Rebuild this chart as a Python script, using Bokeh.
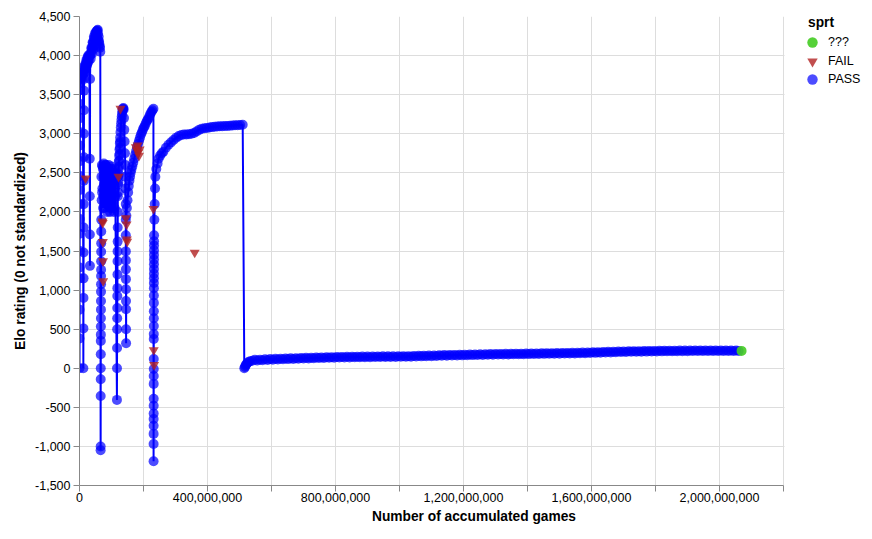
from bokeh.plotting import figure
from bokeh.models import (Range1d, FixedTicker, NumeralTickFormatter, Legend,
                          LegendItem, ColumnDataSource, BoxAnnotation, Title)
from bokeh.embed import file_html
from bokeh.resources import INLINE

# ---------------- data (games in millions, Elo) ----------------
col0_games = [0.0, 0.1, 0.2, 0.3, 0.4, 0.5, 0.6, 0.7, 0.8, 0.9, 1.0, 1.1, 1.2, 1.3, 1.4, 1.5, 1.6, 1.7]
col0_elo = [0, 380, 750, 1150, 1290, 1500, 1720, 1910, 2100, 2280, 2460, 2650, 2850, 3020, 3200, 3380, 3560, 3650]

run1_games = [3, 5, 7, 9, 11, 12.0, 12.2, 12.4, 12.6, 12.8, 13.0, 13.2, 13.4, 13.6, 13.8, 14.0, 14.2,
              14.4, 14.6, 14.8, 15, 16, 17, 18, 19, 20, 21, 22, 23, 24, 25, 26, 27, 28, 29, 30, 31,
              32.0, 32.2, 32.4, 32.6, 33, 34, 35, 36, 37, 38, 39, 40, 41, 42, 43, 44, 45, 46, 47, 48,
              49, 50, 51, 52, 53, 54, 55, 56, 57, 58, 59, 60, 61, 62, 63, 64, 65]
run1_elo = [3680, 3720, 3700, 3780, 3760, 0, 510, 900, 1150, 1480, 1800, 2100, 2400, 2700, 3000, 3300,
            3550, 3700, 3790, 3830, 3860, 3780, 3820, 3880, 3900, 3840, 3870, 3950, 3940, 3880, 3910,
            3990, 3980, 3920, 3950, 4010, 3990, 2680, 2200, 1710, 1310, 3700, 4010, 3960, 4040, 4100,
            4090, 4020, 4100, 4170, 4160, 4080, 4170, 4240, 4220, 4150, 4230, 4290, 4280, 4200, 4270,
            4310, 4310, 4240, 4320, 4330, 4280, 4200, 4240, 4180, 4150, 4120, 4100, 4050]

colA_games = [66.0, 66.1, 66.2, 66.3, 66.4, 66.5, 66.6, 66.7, 66.8, 66.9, 67.0, 67.1, 67.2, 67.3,
              67.4, 67.5, 67.6, 67.7, 67.8, 67.9, 68.0]
colA_elo = [-1050, -1000, -355, -140, 0, 180, 350, 430, 535, 640, 750, 860, 980, 1075, 1180, 1260,
            1370, 1490, 1600, 1750, 1900]

run2_games = [68.5, 69.25, 70, 70.75, 71.5, 72.25, 73, 73.75, 74.5, 75.25, 76, 76.75, 77.5, 78.25,
              79, 79.75, 80.5, 81.25, 82, 82.75, 83.5, 84.25, 85, 85.75, 86.5, 87.25, 88, 88.75,
              89.5, 90.25, 91, 91.75, 92.5, 93.25, 94, 94.75, 95.5, 96.25, 97, 97.75, 98.5, 99.25,
              100, 100.75, 101.5, 102.25, 103, 103.75, 104.5, 105.25, 106, 106.75, 107.5, 108.25,
              109, 109.75, 110.5, 111.25, 112]
run2_elo = [2450, 2150, 2600, 2250, 2300, 2580, 2550, 2050, 2200, 2450, 2620, 2350, 2050, 2550,
            2500, 2150, 2350, 2600, 2600, 2250, 2150, 2500, 2450, 2100, 2000, 2400, 2550, 2300,
            2250, 2550, 2600, 2200, 2100, 2450, 2400, 2050, 2000, 2350, 2500, 2150, 2300, 2550,
            2580, 2200, 2050, 2450, 2400, 2100, 2150, 2500, 2550, 2250, 2000, 2400, 2350, 2050,
            2500, 2300, 2200]

colB_games = [117.0, 117.2, 117.4, 117.6, 117.8, 118.0, 118.2, 118.4, 118.6, 118.8, 119.0, 119.2,
              119.4, 119.6, 119.8]
colB_elo = [-405, 0, 260, 500, 640, 770, 925, 1025, 1200, 1370, 1495, 1620, 1800, 2000, 2200]

run3_games = [120, 120.5, 121, 121.5, 122, 122.5, 123, 123.5, 124, 124.5, 125, 125.5, 126, 126.5,
              127, 127.5, 128, 129, 130, 131, 132, 133, 134, 135, 136, 137, 138, 139, 140, 141,
              142, 143, 143.5, 144]
run3_elo = [2350, 2250, 2450, 2380, 2550, 2480, 2650, 2580, 2720, 2650, 2800, 2740, 2880, 2820,
            2950, 2900, 3020, 3080, 3130, 3180, 3220, 3260, 3290, 3310, 3320, 3330, 3310, 3200,
            3050, 2900, 2750, 2600, 2450, 2300]

colC_games = [144.5, 144.6, 144.7, 144.8, 144.9, 145.0, 145.1, 145.2, 145.3, 145.4, 145.5, 145.6, 146.5]
colC_elo = [2100, 1900, 1700, 1495, 1380, 1265, 1140, 1010, 860, 755, 500, 320, 1950]

run4_games = [148, 150, 152, 154, 156, 158, 160, 162, 165, 168, 171, 174, 177, 180, 183, 186, 189,
              192, 195, 198, 201, 204, 207, 210, 213, 216, 219, 222, 225, 228, 231]
run4_elo = [2050, 2150, 2250, 2330, 2400, 2450, 2500, 2540, 2580, 2630, 2680, 2730, 2780, 2830, 2870,
            2910, 2950, 2990, 3020, 3050, 3080, 3100, 3130, 3160, 3180, 3200, 3230, 3260, 3280, 3300,
            3320]

colD_games = [231.5, 231.55, 231.6, 231.65, 231.7, 231.75, 231.8, 231.85, 231.9, 231.95, 232.0,
              232.05, 232.1, 232.15, 232.2, 232.25, 232.3, 232.35, 232.4, 232.45, 232.5, 232.55,
              232.6, 232.65, 232.7, 232.75, 232.8, 232.85, 232.9, 232.95]
colD_elo = [-1190, -970, -840, -735, -650, -580, -480, -390, -200, -100, -10, 118, 375, 437, 540,
            640, 730, 836, 930, 1025, 1090, 1150, 1210, 1270, 1330, 1390, 1450, 1510, 1570, 1625]

run5_games = [233, 234, 235, 236, 237, 240, 244, 247, 252, 257, 262, 270, 278, 286, 294, 302, 310,
              318, 326, 334, 342, 350, 358, 366, 374, 382, 390, 398, 406, 414, 422, 430, 438, 446,
              454, 462, 470, 478, 486, 494, 502, 510]
run5_elo = [1700, 1900, 2100, 2300, 2450, 2550, 2620, 2680, 2720, 2750, 2770, 2820, 2860, 2890, 2920,
            2950, 2970, 2985, 2990, 2990, 2995, 3000, 3010, 3030, 3050, 3065, 3070, 3075, 3080, 3085,
            3090, 3092, 3095, 3097, 3100, 3100, 3103, 3106, 3108, 3110, 3112, 3115]

run6_games = [515, 517, 519, 521, 524, 528, 533,
              540, 548, 556, 564, 572, 580, 588, 596, 604, 612,
              620, 628, 636, 644, 652, 660, 668, 676, 684, 692,
              700, 708, 716, 724, 732, 740, 748, 756, 764, 772,
              780, 788, 796, 804, 812, 820, 828, 836, 844, 852,
              860, 868, 876, 884, 892, 900, 908, 916, 924, 932,
              940, 948, 956, 964, 972, 980, 988, 996, 1004, 1012,
              1020, 1028, 1036, 1044, 1052, 1060, 1068, 1076, 1084, 1092,
              1100, 1108, 1116, 1124, 1132, 1140, 1148, 1156, 1164, 1172,
              1180, 1188, 1196, 1204, 1212, 1220, 1228, 1236, 1244, 1252,
              1260, 1268, 1276, 1284, 1292, 1300, 1308, 1316, 1324, 1332,
              1340, 1348, 1356, 1364, 1372, 1380, 1388, 1396, 1404, 1412,
              1420, 1428, 1436, 1444, 1452, 1460, 1468, 1476, 1484, 1492,
              1500, 1508, 1516, 1524, 1532, 1540, 1548, 1556, 1564, 1572,
              1580, 1588, 1596, 1604, 1612, 1620, 1628, 1636, 1644, 1652,
              1660, 1668, 1676, 1684, 1692, 1700, 1708, 1716, 1724, 1732,
              1740, 1748, 1756, 1764, 1772, 1780, 1788, 1796, 1804, 1812,
              1820, 1828, 1836, 1844, 1852, 1860, 1868, 1876, 1884, 1892,
              1900, 1908, 1916, 1924, 1932, 1940, 1948, 1956, 1964, 1972,
              1980, 1988, 1996, 2004, 2012, 2020, 2028, 2036, 2044, 2052, 2060]
run6_elo = [0, 15, 35, 50, 65, 80, 90,
            96, 108, 99, 110, 103, 114, 106, 117, 109, 120,
            112, 122, 115, 124, 117, 127, 119, 129, 121, 131,
            124, 133, 126, 135, 128, 137, 130, 139, 132, 141,
            134, 142, 135, 144, 137, 145, 138, 146, 139, 147,
            140, 148, 141, 149, 141, 150, 142, 151, 143, 151,
            143, 152, 144, 152, 144, 153, 145, 153, 146, 154,
            146, 155, 148, 157, 150, 159, 152, 161, 154, 163,
            155, 164, 157, 166, 159, 168, 161, 170, 162, 171,
            164, 173, 165, 174, 167, 176, 168, 177, 170, 179,
            171, 180, 172, 181, 174, 182, 175, 183, 176, 184,
            177, 185, 178, 186, 179, 187, 180, 188, 181, 189,
            182, 190, 183, 191, 184, 192, 185, 193, 186, 194,
            187, 195, 188, 196, 189, 197, 190, 198, 191, 200,
            193, 202, 195, 204, 197, 206, 199, 208, 201, 210,
            203, 212, 205, 214, 207, 215, 208, 217, 210, 218,
            211, 219, 212, 220, 213, 221, 214, 222, 215, 223,
            216, 224, 217, 225, 218, 225, 218, 226, 219, 226,
            219, 227, 220, 227, 220, 227, 220, 227, 220, 227,
            220, 227, 220, 227, 220, 227, 220, 227, 220, 226, 221]

fail_games = [19, 72, 72.5, 73, 73.5, 74, 122, 128, 145, 147, 148, 149, 176, 179, 182, 184, 186,
              188, 231, 232, 233, 360]
fail_elo = [2430, 1880, 1860, 1615, 1370, 1115, 2450, 3320, 1920, 1840, 1650, 1620, 2830, 2790,
            2850, 2760, 2720, 2800, 2040, 233, 42, 1480]

unknown_games = [2069]
unknown_elo = [222]

x_max = 2.2e9
x_ticks = [0, 400e6, 800e6, 1200e6, 1600e6, 2000e6]
x_minor = [200e6, 600e6, 1000e6, 1400e6, 1800e6, 2200e6]
y_ticks = [-1500, -1000, -500, 0, 500, 1000, 1500, 2000, 2500, 3000, 3500, 4000, 4500]

x_title = "Number of accumulated games"
y_title = "Elo rating (0 not standardized)"
legend_title = "sprt"
categories = ["???", "FAIL", "PASS"]
cat_colors = ["#44cc22", "#b22222", "#0000ff"]

# ---------------- assemble ----------------
pass_games = (col0_games + run1_games + colA_games + run2_games + colB_games + run3_games +
              colC_games + run4_games + colD_games + run5_games + run6_games)
pass_elo = (col0_elo + run1_elo + colA_elo + run2_elo + colB_elo + run3_elo +
            colC_elo + run4_elo + colD_elo + run5_elo + run6_elo)
pairs = sorted(zip(pass_games, pass_elo), key=lambda t: t[0])
pass_src = ColumnDataSource(dict(x=[g * 1e6 for g, _ in pairs], y=[e for _, e in pairs]))
fail_src = ColumnDataSource(dict(x=[g * 1e6 for g in fail_games], y=fail_elo))
unk_src = ColumnDataSource(dict(x=[g * 1e6 for g in unknown_games], y=unknown_elo))

FONT = "Liberation Sans"
PLOT_W, LEG_W, FH = 704, 85, 469          # plotting area + legend area share one frame
FW = PLOT_W + LEG_W
LEFT, TOP = 79, 16

p = figure(frame_width=FW, frame_height=FH,
           x_range=Range1d(0, x_max * FW / PLOT_W), y_range=Range1d(-1500, 4500),
           output_backend="svg", toolbar_location=None,
           min_border_left=LEFT, min_border_top=TOP, min_border_right=0, min_border_bottom=50)
p.outline_line_color = None
p.background_fill_color = "white"

for ax in (p.xaxis[0], p.yaxis[0]):
    ax.axis_line_color = "#888888"
    ax.major_tick_line_color = "#888888"
    ax.minor_tick_line_color = "#888888"
    ax.major_tick_in = 0
    ax.major_tick_out = 6
    ax.minor_tick_in = 0
    ax.minor_tick_out = 6
    ax.major_label_text_font = FONT
    ax.major_label_text_font_size = "12.5px"
    ax.major_label_text_color = "#000000"
    ax.axis_label_text_font = FONT
    ax.axis_label_text_font_size = "13.75px"
    ax.axis_label_text_font_style = "bold"
    ax.axis_label_text_color = "#000000"
    ax.formatter = NumeralTickFormatter(format="0,0")

p.xaxis[0].ticker = FixedTicker(ticks=x_ticks, minor_ticks=x_minor)
p.xaxis[0].bounds = (0, x_max)
p.yaxis[0].ticker = FixedTicker(ticks=y_ticks)
p.yaxis[0].minor_tick_line_color = None
p.yaxis[0].axis_label = y_title
p.xaxis[0].major_label_standoff = 1
p.yaxis[0].major_label_standoff = 3
p.yaxis[0].axis_label_standoff = 4

# x-axis title centred under the plotting area (not under the legend strip)
p.add_layout(Title(text=x_title, align="center", offset=-LEG_W / 2, standoff=5,
                   text_font=FONT, text_font_size="13.75px", text_font_style="bold",
                   text_color="#000000"), "below")

p.xgrid[0].grid_line_color = "#dddddd"
p.xgrid[0].minor_grid_line_color = "#dddddd"
p.xgrid[0].bounds = (0, x_max)
p.ygrid[0].grid_line_color = "#dddddd"

p.line("x", "y", source=pass_src, line_color="#0000ff", line_width=2)
r_pass = p.scatter("x", "y", source=pass_src, marker="circle", size=10,
                   fill_color=cat_colors[2], fill_alpha=0.7, line_color=None)
r_fail = p.scatter("x", "y", source=fail_src, marker="inverted_triangle", size=10,
                   fill_color=cat_colors[1], fill_alpha=0.8, line_color=None)
r_unk = p.scatter("x", "y", source=unk_src, marker="circle", size=10,
                  fill_color=cat_colors[0], fill_alpha=0.9, line_color=None)

# blank out the legend strip of the frame (to the right of the last grid line)
p.add_layout(BoxAnnotation(left=x_max * (PLOT_W + 1) / PLOT_W, fill_color="white", fill_alpha=1,
                           line_color=None))

# legend: one bold title entry plus one entry per category, placed in frame pixels
frame_bottom = TOP + FH
centers = [41.7, 60.7, 79.0]
glyph_box = 26
for cat, rend, c in zip(categories, [r_unk, r_fail, r_pass], centers):
    lg = Legend(items=[LegendItem(label=cat, renderers=[rend])],
                location=(812 - glyph_box / 2 - LEFT, frame_bottom - (c + glyph_box / 2)),
                glyph_width=glyph_box, glyph_height=glyph_box, label_height=glyph_box,
                label_standoff=3, padding=0, margin=0, spacing=0,
                border_line_color=None, background_fill_alpha=0,
                label_text_font=FONT, label_text_font_size="12.5px",
                label_text_color="#000000")
    p.add_layout(lg)

lg_t = Legend(items=[LegendItem(label=legend_title, renderers=[r_unk])],
              location=(808 - LEFT, frame_bottom - (22.5 + 8)),
              glyph_width=0, glyph_height=16, label_height=16, label_standoff=0,
              padding=0, margin=0, spacing=0, border_line_color=None, background_fill_alpha=0,
              label_text_font=FONT, label_text_font_size="13.75px", label_text_font_style="bold",
              label_text_color="#000000")
p.add_layout(lg_t)

open("out.html", "w").write(file_html(p, INLINE))
